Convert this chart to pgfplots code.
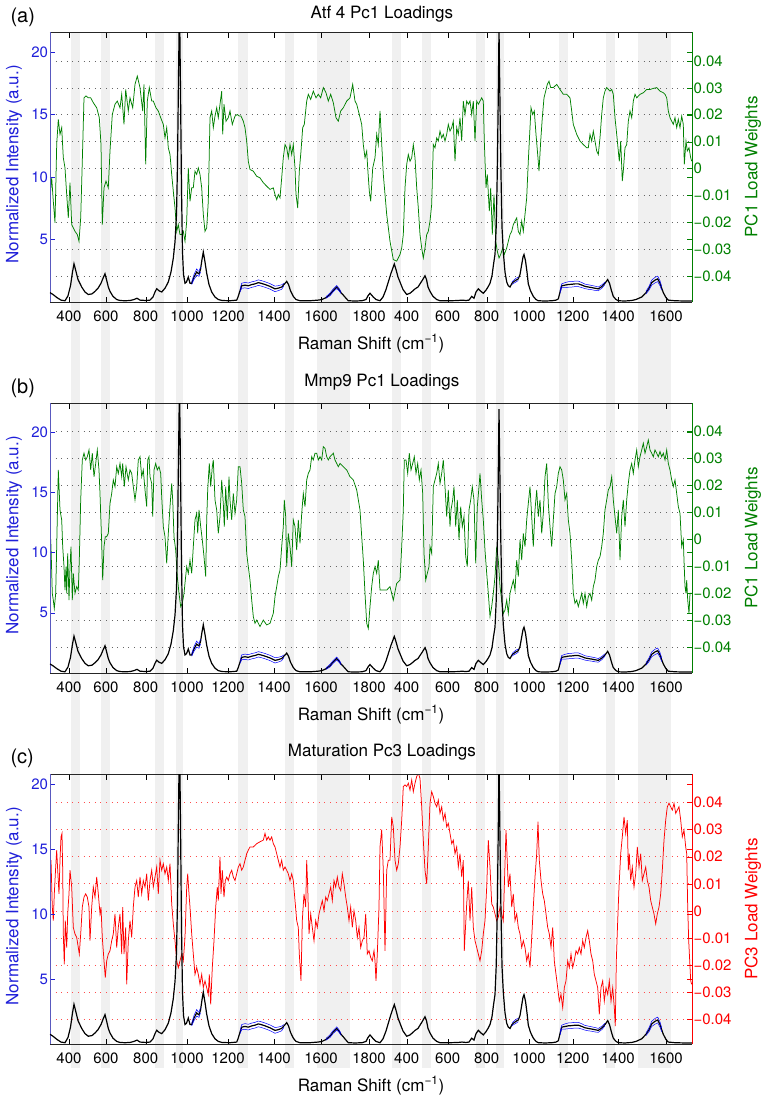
\documentclass[border=0pt]{standalone}
\usepackage{fontspec}
\setmainfont{TeX Gyre Heros}
\usepackage{pgfplots}
\usepackage{pgfplotstable}
\pgfplotsset{compat=1.18}

\definecolor{lblue}{rgb}{0.12,0.12,0.85}
\definecolor{spineblue}{rgb}{0.35,0.35,0.75}
\definecolor{mgreen}{rgb}{0,0.5,0}
\definecolor{mred}{rgb}{1,0,0}
\definecolor{bandgray}{gray}{0.94}
\definecolor{gridgray}{gray}{0.4}

\pgfplotstableread{
x y
50 0.75
53 0.6
57 0.35
61 0.15
65 0.1
68 0.5
70.5 1.3
72.5 2.4
74 3.06
75.5 2.6
78 1.8
81.7 1.2
85 0.8
88.3 0.6
92 0.65
95 0.85
98 1.1
101 1.5
103 1.9
105 2.26
106.5 1.8
108.3 1.2
110 0.85
113 0.45
116.7 0.2
120 0.12
125 0.1
130 0.12
134 0.2
137 0.3
140 0.15
146 0.12
150 0.15
153 0.4
155 0.8
156.7 1.06
159 0.9
161.7 0.8
165 1.1
168.3 1.6
171 2.4
173.3 3.5
175 4.8
176.5 7
177.5 11
178.5 18
179.5 24
180.5 17
181.5 9
182.5 4
183.5 2.2
185 1.5
186.5 1.6
188.3 2.0
190 1.5
191.7 1.5
194 2.0
196.7 2.4
198 2.3
199 2.25
200.5 2.6
202 3.4
203.3 4.0
205 3.2
206.7 2.3
209 1.4
211.7 0.8
215 0.4
218.3 0.2
222 0.12
230 0.1
236.7 0.15
238 0.4
240 0.9
241.7 1.3
245 1.35
248.3 1.3
252 1.4
255 1.45
258.3 1.55
261 1.5
265 1.4
270 1.25
275 1.05
278 1.1
281.7 1.2
284 1.4
286.7 1.65
288.5 1.4
290.5 0.9
293.3 0.45
296 0.2
300 0.1
310 0.1
318 0.15
322 0.2
326 0.35
330 0.6
333 0.9
336.7 1.2
339 1.0
341 0.75
343.3 0.55
346 0.3
348.3 0.1
355 0.08
362 0.1
366 0.2
368 0.5
370 0.7
373.3 0.4
376 0.2
380 0.1
383 0.4
386 1.0
388.3 1.6
391 2.3
394.3 3.04
396 2.6
398 2.0
400 1.6
403 1.0
406.7 0.6
410 0.7
413 0.9
415 1.05
418 1.2
420 1.45
422 1.7
425 2.1
426.5 1.8
428 1.2
430 0.85
433 0.45
436.7 0.2
440 0.1
450 0.1
458 0.12
462 0.15
466 0.12
469 0.15
471.7 0.45
474 0.3
476 0.8
478.3 1.05
481 0.85
483.3 0.7
486 0.95
488 1.2
490 1.5
492 2.1
493.5 3.0
495 3.8
496.2 6
497.2 10
498.2 16
499 21.9
499.8 17
500.8 11
502 6
503.3 4
505 2.4
506.7 1.6
508.3 1.3
510 1.2
512 1.5
513.3 1.6
516 1.75
518.3 1.85
520 2.2
521.5 2.9
523 3.6
524 3.8
525.5 3.3
527 2.4
528.3 1.45
530.5 0.9
533.3 0.45
536 0.2
538.3 0.1
545 0.08
552 0.1
556 0.15
558.3 0.25
560 0.8
561.7 1.3
565 1.35
568.3 1.4
572 1.42
575 1.45
578.3 1.45
582 1.35
585 1.25
588.3 1.2
592 1.15
595 1.1
598.3 1.05
602 1.25
605 1.5
607.7 1.8
609.5 1.5
611.5 0.9
613.3 0.45
616 0.2
618.3 0.1
625 0.08
631.7 0.12
636 0.2
641.7 0.4
646 0.75
649 1.1
651.7 1.55
655 1.75
657.7 1.85
660 1.5
661.7 1.1
663.3 0.75
666 0.35
668.3 0.15
675 0.1
685 0.08
692 0.08
}\spec

\pgfplotstableread{
x y
50.0 -0.0109
51.7 -0.0035
53.3 -0.0122
55.0 -0.0202
56.7 0.0089
58.3 0.0183
60.0 0.0127
61.7 0.0152
63.3 0.0040
65.0 0.0002
66.7 -0.0097
68.3 -0.0184
70.0 -0.0053
71.7 -0.0209
73.3 -0.0221
75.0 -0.0234
77.3 -0.0246
79.0 -0.0271
80.7 -0.0184
82.3 0.0027
84.0 0.0263
86.0 0.0270
88.3 0.0263
90.7 0.0263
93.3 0.0245
96.7 0.0226
99.3 0.0189
101.0 0.0089
102.3 -0.0209
104.0 -0.0072
106.0 -0.0047
108.3 -0.0072
110.0 0.0065
112.3 0.0201
115.0 0.0239
117.3 0.0251
120.0 0.0226
121.7 0.0276
124.0 0.0164
125.7 0.0294
128.3 0.0214
130.0 0.0263
132.7 0.0226
135.0 0.0313
137.3 0.0344
140.0 0.0301
142.7 0.0214
144.0 0.0313
145.7 0.0015
147.3 0.0251
149.3 0.0301
151.7 0.0251
153.3 0.0251
156.0 0.0226
158.3 0.0214
160.7 0.0189
163.3 0.0164
165.0 0.0114
166.7 0.0152
168.3 0.0077
170.0 0.0052
171.7 -0.0022
173.3 -0.0084
175.0 -0.0147
176.7 -0.0234
178.3 -0.0209
180.0 -0.0246
181.7 -0.0246
183.3 -0.0234
185.0 -0.0271
186.7 -0.0196
188.3 0.0002
190.0 -0.0122
191.7 -0.0072
193.3 -0.0072
195.0 -0.0010
196.7 -0.0022
198.3 0.0002
200.0 -0.0022
201.7 -0.0072
203.3 -0.0171
205.0 -0.0234
206.7 -0.0221
208.3 -0.0122
210.0 0.0189
211.7 0.0214
213.3 0.0152
215.0 0.0195
216.7 0.0226
218.3 0.0189
220.0 0.0239
221.7 0.0288
222.7 0.0127
224.0 0.0239
226.0 0.0176
228.3 0.0189
230.0 0.0214
232.3 0.0164
235.0 0.0195
237.3 0.0201
239.3 0.0195
241.0 0.0195
243.3 0.0176
245.0 0.0152
246.7 0.0102
248.3 0.0027
250.0 -0.0004
253.3 -0.0010
256.7 -0.0029
260.0 -0.0035
263.3 -0.0053
266.7 -0.0066
270.0 -0.0078
273.3 -0.0072
275.0 -0.0097
276.7 -0.0116
278.3 -0.0097
280.0 -0.0109
281.7 -0.0035
283.3 0.0040
285.0 0.0089
286.7 0.0077
288.3 0.0040
290.0 0.0089
291.7 0.0052
293.3 0.0089
295.0 0.0002
296.0 -0.0097
297.7 -0.0147
299.3 -0.0010
301.0 0.0065
302.7 0.0152
304.3 0.0164
306.7 0.0251
308.3 0.0276
310.7 0.0257
313.3 0.0288
316.0 0.0263
318.3 0.0276
320.7 0.0263
323.3 0.0301
326.0 0.0282
328.3 0.0251
330.7 0.0276
333.3 0.0245
336.0 0.0189
338.3 0.0176
340.7 0.0214
343.3 0.0226
346.7 0.0251
350.0 0.0263
352.7 0.0313
355.0 0.0251
356.7 0.0239
359.3 0.0201
361.7 0.0164
363.3 0.0089
365.0 0.0040
366.7 0.0065
367.7 0.0002
369.3 -0.0084
370.7 -0.0122
372.7 0.0002
375.0 0.0040
376.7 0.0127
378.3 0.0089
380.0 0.0214
383.3 -0.0022
386.7 -0.0171
390.0 -0.0271
393.3 -0.0339
396.7 -0.0345
400.0 -0.0320
401.7 -0.0296
403.3 -0.0246
405.0 -0.0072
406.7 0.0015
408.3 0.0052
410.0 0.0027
411.7 0.0040
413.3 0.0089
415.0 0.0040
416.7 -0.0072
418.3 -0.0147
420.0 -0.0246
421.7 -0.0296
423.3 -0.0333
425.0 -0.0296
426.7 -0.0246
428.3 -0.0234
430.0 -0.0196
431.7 -0.0134
433.3 0.0089
435.0 0.0077
436.7 0.0114
438.3 0.0102
440.0 0.0139
441.7 0.0114
443.3 0.0127
445.0 0.0102
446.7 0.0127
448.3 0.0164
450.0 0.0139
451.7 0.0152
453.3 0.0176
455.0 0.0027
456.7 0.0152
458.3 0.0127
460.0 0.0189
461.7 0.0102
463.3 0.0251
465.0 0.0201
466.7 0.0251
468.3 0.0239
470.0 0.0251
471.7 0.0201
473.3 0.0251
475.0 0.0102
476.7 0.0251
478.3 0.0239
480.0 0.0251
481.7 0.0263
483.3 0.0251
484.3 0.0102
486.0 -0.0072
487.3 -0.0022
489.3 -0.0159
490.7 -0.0072
492.3 -0.0246
494.0 -0.0097
495.7 -0.0271
497.3 -0.0308
499.0 -0.0333
500.7 -0.0320
502.7 -0.0296
504.3 -0.0320
506.7 -0.0296
508.3 -0.0271
510.0 -0.0246
511.7 -0.0234
513.3 -0.0209
515.0 -0.0196
516.7 -0.0184
518.3 -0.0234
520.0 -0.0246
521.7 -0.0196
523.3 -0.0234
525.0 -0.0171
526.7 -0.0109
528.3 0.0027
530.0 0.0152
531.0 0.0226
532.7 0.0201
534.3 0.0214
536.0 0.0127
537.7 0.0052
539.0 -0.0010
540.7 0.0102
542.3 0.0189
544.0 0.0263
545.7 0.0288
547.3 0.0313
549.0 0.0325
550.7 0.0301
553.3 0.0301
556.7 0.0313
560.0 0.0294
563.3 0.0276
566.7 0.0276
570.0 0.0263
571.7 0.0214
573.3 0.0164
576.7 0.0127
580.0 0.0102
583.3 0.0089
586.7 0.0077
588.3 0.0077
590.0 0.0127
591.7 0.0102
593.3 0.0139
595.0 0.0102
596.7 0.0065
598.3 0.0052
600.0 0.0114
601.7 0.0201
603.3 0.0263
605.0 0.0288
606.7 0.0301
610.0 0.0288
611.7 0.0294
613.3 0.0276
615.0 0.0189
616.7 0.0127
618.3 0.0065
619.3 0.0027
620.7 0.0102
622.3 -0.0047
623.3 -0.0010
625.0 0.0077
626.7 0.0089
628.3 0.0176
630.0 0.0214
631.7 0.0189
633.3 0.0251
635.0 0.0276
636.7 0.0263
640.0 0.0276
643.3 0.0282
646.7 0.0294
650.0 0.0294
653.3 0.0298
656.7 0.0301
660.0 0.0288
663.3 0.0282
665.0 0.0276
666.7 0.0263
668.3 0.0214
670.0 0.0189
671.7 0.0176
673.3 0.0164
675.0 0.0189
676.7 0.0152
678.3 0.0183
680.0 0.0152
681.7 0.0195
683.3 0.0164
684.3 0.0015
686.0 0.0102
687.3 0.0065
689.0 0.0077
690.7 0.0040
691.7 0.0027
}\loadA

\pgfplotstableread{
x y
50.0 0.0047
51.0 -0.0027
52.3 -0.0200
53.3 -0.0225
54.3 -0.0256
55.7 -0.0200
56.7 -0.0027
58.3 0.0257
60.0 0.0109
61.7 0.0072
62.7 -0.0027
64.0 -0.0101
65.0 -0.0188
66.0 -0.0101
66.7 -0.0200
67.7 -0.0052
69.0 -0.0225
70.0 -0.0101
71.0 -0.0027
72.3 -0.0225
73.3 -0.0126
75.0 -0.0200
76.7 -0.0175
78.3 -0.0188
79.3 -0.0077
80.7 0.0146
82.3 0.0294
84.0 0.0319
85.7 0.0294
87.3 0.0306
89.0 0.0331
90.7 0.0257
92.3 0.0319
94.0 0.0232
95.7 0.0281
97.3 0.0331
99.0 0.0257
100.0 0.0170
101.7 -0.0015
102.7 -0.0151
104.0 -0.0027
105.3 0.0010
106.7 0.0010
108.3 0.0022
110.0 0.0133
111.7 0.0170
113.3 0.0220
115.0 0.0195
116.7 0.0269
118.3 0.0244
120.0 0.0281
121.7 0.0232
122.7 0.0281
124.3 0.0195
126.0 0.0269
128.3 0.0220
130.0 0.0257
131.7 0.0244
133.3 0.0195
135.0 0.0146
136.7 0.0195
138.3 0.0294
140.0 0.0306
141.7 0.0232
143.3 0.0257
145.0 0.0183
146.7 0.0121
147.7 0.0294
149.0 0.0306
150.0 0.0232
151.7 0.0207
152.7 0.0084
154.0 0.0257
155.7 0.0281
157.3 0.0257
159.0 0.0269
160.7 0.0244
161.7 0.0158
163.3 0.0047
165.0 0.0010
166.7 -0.0089
168.3 0.0022
170.0 0.0121
171.7 0.0207
172.7 0.0146
174.0 0.0010
175.7 -0.0040
177.3 -0.0138
179.0 -0.0200
180.7 -0.0249
182.3 -0.0237
184.0 -0.0200
185.3 -0.0151
186.7 -0.0101
188.3 -0.0126
190.0 -0.0077
191.7 -0.0126
193.3 -0.0027
195.0 0.0072
196.7 0.0096
197.7 0.0022
199.0 0.0109
200.7 0.0047
202.3 -0.0002
204.0 -0.0064
205.7 -0.0138
206.7 0.0072
207.7 0.0183
209.3 0.0281
210.7 0.0195
212.3 0.0269
213.3 0.0294
215.0 0.0146
216.7 0.0109
218.3 0.0022
220.0 0.0084
221.7 0.0220
223.3 0.0133
224.3 0.0047
225.7 0.0195
227.3 0.0072
229.0 0.0232
230.0 0.0146
231.7 0.0072
233.3 0.0170
235.0 0.0096
236.7 0.0146
238.3 0.0269
240.0 0.0269
241.7 0.0207
243.3 0.0109
245.0 0.0084
246.7 -0.0052
248.3 -0.0101
250.0 -0.0151
251.7 -0.0225
253.3 -0.0286
255.0 -0.0311
256.7 -0.0299
260.0 -0.0323
263.3 -0.0299
266.7 -0.0317
270.0 -0.0311
273.3 -0.0274
275.0 -0.0212
276.7 -0.0175
278.3 -0.0138
280.0 -0.0114
281.7 -0.0027
283.3 0.0047
284.3 0.0146
285.7 0.0084
286.7 -0.0101
288.3 0.0022
290.0 -0.0027
291.7 -0.0101
293.3 0.0072
295.0 0.0047
296.7 -0.0040
298.3 0.0072
300.0 -0.0015
301.7 0.0096
303.3 0.0170
305.0 0.0121
306.7 0.0220
308.3 0.0244
310.0 0.0257
311.7 0.0306
313.3 0.0294
315.0 0.0319
316.7 0.0319
318.3 0.0294
320.0 0.0306
321.7 0.0294
323.3 0.0343
325.0 0.0337
326.7 0.0306
328.3 0.0294
330.0 0.0306
333.3 0.0319
335.0 0.0294
336.7 0.0281
338.3 0.0269
340.0 0.0281
343.3 0.0269
346.7 0.0257
350.0 0.0232
353.3 0.0220
356.7 0.0183
360.0 0.0109
361.7 0.0010
363.3 -0.0077
365.0 -0.0200
366.7 -0.0311
368.3 -0.0330
370.0 -0.0249
371.7 -0.0175
373.3 -0.0126
375.0 -0.0101
376.7 -0.0126
378.3 -0.0077
380.0 -0.0188
386.7 -0.0188
390.0 -0.0175
393.3 -0.0225
396.7 -0.0163
400.0 -0.0151
401.7 -0.0027
403.3 0.0109
404.3 0.0294
406.0 0.0294
407.7 0.0244
409.3 0.0319
411.0 0.0257
412.7 0.0281
414.3 0.0306
416.0 0.0244
417.7 0.0281
419.3 0.0220
421.0 0.0257
422.7 0.0170
424.0 -0.0052
425.7 -0.0151
427.3 -0.0126
429.0 -0.0101
430.0 -0.0027
431.7 -0.0052
433.3 0.0195
435.0 0.0220
436.7 0.0244
438.3 0.0281
440.0 0.0207
441.7 0.0244
443.3 0.0294
445.0 0.0195
446.7 0.0084
448.3 0.0183
450.0 0.0047
451.0 0.0109
452.7 0.0146
454.0 0.0195
455.7 0.0047
457.3 0.0146
459.0 -0.0002
460.7 0.0121
462.3 0.0047
464.0 0.0084
465.7 -0.0064
467.3 -0.0101
469.0 0.0109
470.7 0.0146
472.3 0.0195
474.0 0.0146
475.7 -0.0089
477.3 0.0121
479.0 0.0195
480.0 0.0244
481.7 0.0146
483.3 0.0072
485.0 -0.0040
486.7 -0.0126
488.3 -0.0200
490.0 -0.0286
491.7 -0.0249
493.3 -0.0200
495.0 -0.0138
496.7 -0.0027
498.3 -0.0077
500.0 -0.0175
501.7 -0.0225
503.3 -0.0274
505.0 -0.0262
506.7 -0.0225
508.3 -0.0274
510.0 -0.0200
511.7 -0.0175
513.3 -0.0151
515.0 -0.0188
516.7 -0.0077
518.3 -0.0138
520.0 -0.0002
521.7 -0.0077
523.3 0.0022
525.0 -0.0027
526.7 0.0072
528.3 0.0133
530.0 0.0195
531.7 0.0084
533.3 -0.0027
535.0 0.0109
536.7 0.0183
538.3 0.0084
540.0 0.0146
541.7 0.0022
543.3 0.0096
545.0 0.0232
546.7 0.0281
548.3 0.0133
550.0 0.0047
551.7 -0.0027
553.3 0.0072
555.0 0.0170
556.7 0.0195
558.3 0.0244
560.0 0.0269
561.7 0.0257
563.3 0.0220
565.0 0.0146
566.7 0.0170
568.3 0.0072
570.0 0.0022
571.7 -0.0077
573.3 -0.0200
575.0 -0.0237
576.7 -0.0225
578.3 -0.0249
580.0 -0.0225
581.7 -0.0200
583.3 -0.0237
585.0 -0.0200
586.7 -0.0249
588.3 -0.0212
590.0 -0.0200
591.7 -0.0225
593.3 -0.0175
595.0 -0.0151
596.7 -0.0101
598.3 -0.0077
600.0 -0.0064
601.7 -0.0027
603.3 0.0022
605.0 0.0109
606.7 0.0146
608.3 0.0183
610.0 0.0195
611.7 0.0232
613.3 0.0146
615.0 0.0084
616.7 0.0022
618.3 0.0109
620.0 -0.0077
621.7 0.0084
623.3 0.0146
625.0 0.0047
626.7 0.0146
628.3 0.0207
630.0 0.0257
631.7 0.0281
633.3 0.0244
635.0 0.0294
636.7 0.0331
638.3 0.0269
640.0 0.0306
641.7 0.0331
643.3 0.0356
645.0 0.0319
646.7 0.0343
648.3 0.0368
650.0 0.0331
651.7 0.0319
653.3 0.0306
655.0 0.0331
656.7 0.0319
658.3 0.0306
660.0 0.0325
661.7 0.0306
663.3 0.0319
665.0 0.0294
666.7 0.0331
668.3 0.0281
670.0 0.0257
671.7 0.0220
673.3 0.0195
675.0 0.0220
676.7 0.0170
678.3 0.0121
680.0 0.0096
681.7 -0.0027
683.3 -0.0002
684.0 -0.0077
685.0 -0.0175
686.0 -0.0200
686.7 -0.0151
687.7 -0.0225
689.0 -0.0274
690.0 -0.0200
691.7 -0.0200
}\loadB

\pgfplotstableread{
x y
50.0 0.0125
51.0 0.0187
52.3 0.0014
53.3 -0.0036
54.3 0.0063
55.7 0.0162
56.7 0.0224
57.7 0.0150
59.0 0.0063
60.0 0.0187
61.0 0.0273
62.0 0.0286
62.7 0.0150
63.3 -0.0085
64.3 -0.0197
65.3 -0.0036
66.7 -0.0135
67.7 -0.0011
69.0 0.0063
70.0 0.0150
71.7 0.0088
73.3 -0.0061
75.0 -0.0085
76.7 -0.0098
78.3 -0.0135
79.3 -0.0159
80.7 -0.0085
82.3 0.0014
84.0 0.0051
85.7 0.0063
87.3 0.0051
89.0 0.0014
90.0 -0.0110
91.7 0.0014
93.3 0.0088
95.0 0.0051
96.7 0.0125
98.3 0.0063
100.0 -0.0011
101.0 0.0014
102.3 -0.0098
104.0 -0.0184
105.3 -0.0246
106.7 -0.0184
108.3 -0.0159
110.0 -0.0147
111.7 -0.0110
113.3 -0.0085
115.0 -0.0011
116.7 -0.0135
118.3 -0.0061
120.0 -0.0011
121.7 -0.0159
122.7 0.0014
124.0 -0.0159
125.7 -0.0061
126.7 -0.0271
128.3 -0.0110
130.0 -0.0036
131.7 -0.0098
133.3 0.0014
135.0 0.0088
136.7 0.0112
138.3 0.0051
140.0 0.0125
141.7 0.0063
143.3 0.0112
145.0 0.0088
146.7 0.0137
148.3 0.0038
150.0 0.0112
151.7 0.0150
153.3 0.0088
155.0 0.0125
156.7 0.0162
158.3 0.0063
160.0 0.0187
161.7 0.0150
163.3 0.0174
165.0 0.0137
166.7 0.0162
168.3 0.0112
170.0 0.0174
171.7 0.0026
173.3 -0.0048
175.0 -0.0110
176.7 -0.0184
178.3 -0.0209
180.0 -0.0184
181.7 -0.0159
183.3 -0.0184
185.0 -0.0098
186.7 0.0088
187.7 0.0137
189.0 0.0063
190.0 0.0014
191.7 -0.0085
193.3 -0.0159
195.0 -0.0234
196.7 -0.0209
198.3 -0.0234
200.0 -0.0271
201.7 -0.0234
203.3 -0.0283
205.0 -0.0258
206.7 -0.0283
208.3 -0.0308
209.3 -0.0234
210.7 -0.0345
212.3 -0.0209
214.0 -0.0110
215.7 0.0014
217.3 0.0088
218.3 0.0038
220.0 0.0199
221.0 0.0063
222.3 0.0150
224.0 0.0051
225.3 0.0112
226.7 0.0125
228.3 0.0112
230.0 0.0137
231.7 0.0150
233.3 0.0125
235.0 0.0112
236.7 0.0137
238.3 0.0162
240.0 0.0174
241.7 0.0150
243.3 0.0162
245.0 0.0187
246.7 0.0211
248.3 0.0224
250.0 0.0236
253.3 0.0236
256.7 0.0248
260.0 0.0255
263.3 0.0261
265.0 0.0286
266.7 0.0261
268.3 0.0273
270.0 0.0261
271.7 0.0273
273.3 0.0248
275.0 0.0236
276.7 0.0211
278.3 0.0187
280.0 0.0162
281.7 0.0187
283.3 0.0150
285.0 0.0162
286.7 0.0150
288.3 0.0137
290.0 0.0112
291.7 0.0137
293.3 0.0112
295.0 0.0038
296.7 -0.0036
298.3 -0.0061
299.3 -0.0159
301.0 -0.0258
302.3 -0.0036
304.0 0.0063
305.7 0.0014
306.7 0.0187
307.7 0.0088
309.0 -0.0085
310.7 -0.0011
312.3 -0.0061
314.0 -0.0110
315.7 -0.0036
317.3 -0.0061
319.0 -0.0011
320.7 0.0014
322.3 0.0038
324.0 0.0001
325.7 0.0051
327.3 0.0038
329.0 0.0063
330.7 0.0088
332.3 0.0038
334.0 0.0112
335.7 0.0088
337.3 0.0125
339.0 0.0088
340.7 0.0075
342.3 0.0137
344.0 0.0100
345.7 0.0051
347.3 0.0014
349.0 -0.0036
350.7 0.0014
352.3 -0.0061
354.0 0.0001
355.7 -0.0036
357.3 -0.0098
359.0 -0.0061
360.7 -0.0135
362.3 -0.0110
364.0 -0.0098
365.7 -0.0011
367.3 -0.0159
369.0 -0.0147
370.7 -0.0172
372.3 -0.0184
374.0 -0.0147
375.0 -0.0184
376.0 -0.0258
377.3 -0.0159
379.0 0.0014
380.0 0.0236
381.7 0.0300
383.3 0.0150
385.0 -0.0147
386.7 0.0150
388.3 0.0187
390.0 0.0187
391.7 0.0347
393.3 0.0310
395.0 0.0187
396.7 0.0150
398.3 0.0174
400.0 0.0236
401.7 0.0335
403.3 0.0459
405.0 0.0465
406.7 0.0459
408.3 0.0471
410.0 0.0446
411.7 0.0483
413.3 0.0440
415.0 0.0471
416.7 0.0496
418.3 0.0508
420.0 0.0489
421.7 0.0384
423.3 0.0261
425.0 0.0150
426.7 0.0100
428.3 0.0236
430.0 0.0397
431.7 0.0440
433.3 0.0422
435.0 0.0397
436.7 0.0384
438.3 0.0409
440.0 0.0360
441.7 0.0384
443.3 0.0335
445.0 0.0360
446.7 0.0310
448.3 0.0323
450.0 0.0286
451.7 0.0248
453.3 0.0261
455.0 0.0211
456.7 0.0236
458.3 0.0162
460.0 0.0211
461.7 0.0125
463.3 0.0187
464.3 -0.0147
466.7 0.0026
468.3 0.0112
470.0 -0.0036
471.7 0.0088
473.3 -0.0061
475.0 -0.0110
476.7 -0.0135
478.3 -0.0159
480.0 -0.0184
481.7 -0.0147
483.3 -0.0085
485.0 -0.0036
486.7 0.0088
488.3 0.0261
490.0 0.0162
491.7 0.0026
493.3 0.0014
495.0 -0.0011
496.7 -0.0036
498.3 -0.0023
500.0 0.0014
501.7 -0.0011
503.3 -0.0036
506.0 0.0298
508.3 0.0088
510.0 0.0137
511.7 0.0014
513.3 0.0063
515.0 -0.0036
516.7 -0.0011
518.3 -0.0061
520.0 -0.0085
521.7 -0.0135
523.3 -0.0110
525.0 -0.0135
526.7 -0.0184
528.3 -0.0159
530.0 -0.0209
531.7 -0.0098
533.3 0.0014
535.0 0.0125
536.7 0.0211
538.0 0.0329
539.3 0.0187
541.0 0.0112
542.7 0.0063
544.3 0.0038
546.0 -0.0011
547.7 -0.0061
549.3 -0.0085
551.0 -0.0135
552.7 -0.0061
554.3 -0.0184
556.0 -0.0234
557.7 -0.0283
559.3 -0.0333
561.0 -0.0308
562.7 -0.0357
564.3 -0.0283
566.0 -0.0258
567.7 -0.0184
569.3 -0.0209
571.0 -0.0159
572.7 -0.0209
574.3 -0.0184
576.0 -0.0147
577.7 -0.0159
579.3 -0.0135
581.0 -0.0159
582.7 -0.0110
584.3 -0.0135
586.0 -0.0098
587.7 -0.0073
589.3 -0.0110
591.0 -0.0159
592.7 -0.0184
594.3 -0.0234
596.0 -0.0258
597.7 -0.0283
599.3 -0.0382
601.0 -0.0283
602.7 -0.0258
604.3 -0.0333
606.0 -0.0283
607.7 -0.0308
609.3 -0.0258
611.0 -0.0333
612.7 -0.0283
614.3 -0.0357
615.3 -0.0425
616.3 -0.0184
617.7 -0.0036
619.0 0.0088
620.7 0.0211
622.3 0.0273
624.0 0.0347
625.7 0.0286
627.3 0.0335
628.3 0.0150
629.3 0.0211
630.7 0.0112
632.3 0.0162
634.0 0.0088
635.7 0.0137
637.3 0.0236
639.0 0.0162
640.7 0.0211
642.3 0.0112
644.0 0.0137
645.7 0.0162
647.3 0.0112
649.0 0.0088
650.7 0.0038
652.3 0.0014
654.0 -0.0011
655.7 -0.0048
657.3 -0.0011
659.0 0.0014
660.7 0.0063
662.3 0.0150
664.0 0.0261
665.7 0.0335
667.3 0.0384
669.0 0.0397
670.7 0.0384
672.3 0.0372
674.0 0.0397
675.7 0.0360
677.3 0.0372
679.0 0.0384
680.7 0.0335
682.3 0.0273
684.0 0.0298
685.7 0.0236
686.7 0.0211
687.7 0.0014
688.7 -0.0110
689.7 -0.0184
690.7 -0.0258
691.7 -0.0271
}\loadC

\pgfplotsset{
  panel/.style={
    scale only axis, width=642pt, height=270pt, anchor=south west,
    xmin=50, xmax=692,
    /pgf/number format/assume math mode=true,
    tick align=inside, major tick length=5.5pt,
    ticklabel style={font=\fontsize{15}{15}\selectfont},
    label style={font=\fontsize{17}{17}\selectfont},
  },
  leftpanel/.style={
    panel, clip mode=individual,
    axis x line*=box, axis y line*=left,
    x axis line style={black!85, -},
    y axis line style={spineblue, -},
    xtick={69,106,145.7,187,228,274,321,369,406.7,447.7,486.7,529,572.7,618,666},
    xticklabels={400,600,800,1000,1200,1400,1600,1800,400,600,800,1000,1200,1400,1600},
    xtick style={black},
    ytick={5,10,15,20}, ytick style={lblue},
    yticklabel style={lblue, xshift=1.5pt},
    xticklabel style={anchor=base, yshift=-19.5pt},
    xlabel={Raman Shift (cm\textsuperscript{−1})},
    xlabel style={at={(axis description cs:0.5,0)}, anchor=base, yshift=-47pt},
    ylabel={Normalized Intensity (a.u.)},
    ylabel style={lblue, at={(axis description cs:-0.056,0.51)}, anchor=center, rotate=0},
    title style={font=\fontsize{17}{17}\selectfont, at={(0.517,1)}, anchor=base},
  },
  rightpanel/.style={
    panel, axis x line=none, axis y line*=right,
    y axis line style={-},
    scaled y ticks=false,
    ytick={-0.04,-0.03,-0.02,-0.01,0,0.01,0.02,0.03,0.04},
    yticklabels={−0.04,−0.03,−0.02,−0.01,0,0.01,0.02,0.03,0.04},
    ymajorgrids,
    yticklabel style={xshift=-2pt},
    extra y tick labels={},
    extra y tick style={grid=none, tick style={lblue}},
    ylabel style={at={(axis description cs:1.095,0.5)}, anchor=center},
  },
  specline/.style={black, line width=1.2pt},
  bandline/.style={blue, line width=0.5pt},
}

\newcommand{\bandlines}{%
  \addplot[bandline] coordinates {(191.7,1.6)(194,2.2)(196.7,2.65)(198,2.5)(199,2.45)(200.5,2.8)};
  \addplot[bandline] coordinates {(191.7,1.4)(194,1.8)(196.7,2.15)(198,2.1)(199,2.05)(200.5,2.4)};
  \addplot[bandline] coordinates {(240,1.0)(241.7,1.5)(245,1.57)(248.3,1.52)(252,1.62)(255,1.67)(258.3,1.77)(261,1.72)(265,1.62)(270,1.47)(275,1.27)(278,1.3)(281.7,1.38)(284,1.5)};
  \addplot[bandline] coordinates {(240,0.8)(241.7,1.1)(245,1.13)(248.3,1.08)(252,1.18)(255,1.23)(258.3,1.33)(261,1.28)(265,1.18)(270,1.03)(275,0.83)(278,0.9)(281.7,1.02)(284,1.3)};
  \addplot[bandline] coordinates {(326,0.42)(330,0.72)(333,1.02)(336.7,1.32)(339,1.1)(341,0.82)};
  \addplot[bandline] coordinates {(326,0.3)(330,0.5)(333,0.8)(336.7,1.08)(339,0.9)(341,0.68)};
  \addplot[bandline] coordinates {(512,1.6)(513.3,1.72)(516,1.9)(518.3,1.98)};
  \addplot[bandline] coordinates {(512,1.4)(513.3,1.48)(516,1.6)(518.3,1.72)};
  \addplot[bandline] coordinates {(560,0.9)(561.7,1.45)(565,1.55)(568.3,1.62)(572,1.64)(575,1.67)(578.3,1.67)(582,1.55)(585,1.43)(588.3,1.38)(592,1.32)(595,1.27)(598.3,1.2)(602,1.38)(605,1.6)};
  \addplot[bandline] coordinates {(560,0.7)(561.7,1.15)(565,1.15)(568.3,1.18)(572,1.2)(575,1.23)(578.3,1.23)(582,1.15)(585,1.07)(588.3,1.02)(592,0.98)(595,0.93)(598.3,0.9)(602,1.12)(605,1.4)};
  \addplot[bandline] coordinates {(646,0.85)(649,1.25)(651.7,1.75)(655,1.97)(657.7,2.07)(660,1.7)(661.7,1.25)};
  \addplot[bandline] coordinates {(646,0.65)(649,0.95)(651.7,1.35)(655,1.53)(657.7,1.63)(660,1.3)(661.7,0.95)};
}

\begin{document}
\begin{tikzpicture}
\path[use as bounding box] (0pt,0pt) rectangle (765pt,-1098pt);

% shaded bands spanning the whole figure
\begin{axis}[scale only axis, width=642pt, height=1036pt, at={(50pt,-1068pt)}, anchor=south west,
  xmin=50, xmax=692, ymin=0, ymax=1, axis lines=none, ticks=none]
\addplot[fill=bandgray, draw=none] coordinates {(71,1) (80,1)} \closedcycle;
\addplot[fill=bandgray, draw=none] coordinates {(101,1) (110,1)} \closedcycle;
\addplot[fill=bandgray, draw=none] coordinates {(155,1) (164,1)} \closedcycle;
\addplot[fill=bandgray, draw=none] coordinates {(175.5,1) (182.5,1)} \closedcycle;
\addplot[fill=bandgray, draw=none] coordinates {(238,1) (247.5,1)} \closedcycle;
\addplot[fill=bandgray, draw=none] coordinates {(285,1) (294,1)} \closedcycle;
\addplot[fill=bandgray, draw=none] coordinates {(316.5,1) (349.5,1)} \closedcycle;
\addplot[fill=bandgray, draw=none] coordinates {(391.7,1) (400.7,1)} \closedcycle;
\addplot[fill=bandgray, draw=none] coordinates {(422.2,1) (431,1)} \closedcycle;
\addplot[fill=bandgray, draw=none] coordinates {(476,1) (485,1)} \closedcycle;
\addplot[fill=bandgray, draw=none] coordinates {(496,1) (503.5,1)} \closedcycle;
\addplot[fill=bandgray, draw=none] coordinates {(559.3,1) (568.3,1)} \closedcycle;
\addplot[fill=bandgray, draw=none] coordinates {(605.8,1) (615,1)} \closedcycle;
\addplot[fill=bandgray, draw=none] coordinates {(637.5,1) (670.5,1)} \closedcycle;
\end{axis}

% ---------------- panel (a) ----------------
\begin{axis}[rightpanel, at={(50pt,-302pt)}, ymin=-0.0497, ymax=0.0508,
  extra y ticks={-0.0264,-0.0032,0.0201,0.0434},
  ylabel={PC1 Load Weights}, ylabel style={mgreen}, y axis line style={mgreen},
  ytick style={mgreen}, yticklabel style={mgreen},
  grid style={gridgray, line width=0.6pt, dash pattern=on 0.6pt off 5pt}]
\addplot[mgreen, line width=0.75pt] table[x=x,y=y]{\loadA};
\end{axis}
\begin{axis}[leftpanel, at={(50pt,-302pt)}, ymin=0, ymax=21.6,
  title={Atf 4 Pc1 Loadings}, title style={yshift=7.7pt}]
\addplot[specline] table[x=x,y=y]{\spec};
\bandlines
\node[anchor=base west, font=\fontsize{20}{20}\selectfont, yshift=9.5pt] at (rel axis cs:-0.067,1) {(a)};
\end{axis}

% ---------------- panel (b) ----------------
\begin{axis}[rightpanel, at={(50pt,-673pt)}, ymin=-0.0495, ymax=0.0505,
  extra y ticks={-0.0272,-0.0049,0.0175,0.0398},
  ylabel={PC1 Load Weights}, ylabel style={mgreen}, y axis line style={mgreen},
  ytick style={mgreen}, yticklabel style={mgreen},
  grid style={gridgray, line width=0.6pt, dash pattern=on 0.6pt off 5pt}]
\addplot[mgreen, line width=0.75pt] table[x=x,y=y]{\loadB};
\end{axis}
\begin{axis}[leftpanel, at={(50pt,-673pt)}, ymin=0, ymax=22.4,
  title={Mmp9 Pc1 Loadings}, title style={yshift=10.6pt}]
\addplot[specline] table[x=x,y=y]{\spec};
\bandlines
\node[anchor=base west, font=\fontsize{20}{20}\selectfont, yshift=10pt] at (rel axis cs:-0.067,1) {(b)};
\end{axis}

% ---------------- panel (c) ----------------
\begin{axis}[rightpanel, at={(50pt,-1044pt)}, ymin=-0.0491, ymax=0.0505,
  extra y ticks={-0.0252,-0.0012,0.0227,0.0467},
  ylabel={PC3 Load Weights}, ylabel style={mred}, y axis line style={mred},
  ytick style={mred}, yticklabel style={mred},
  grid style={red!70, line width=0.6pt, dash pattern=on 0.6pt off 5pt}]
\addplot[mred, line width=0.75pt] table[x=x,y=y]{\loadC};
\end{axis}
\begin{axis}[leftpanel, at={(50pt,-1044pt)}, ymin=0, ymax=20.8,
  title={Maturation Pc3 Loadings}, title style={yshift=11.7pt}]
\addplot[specline] table[x=x,y=y]{\spec};
\bandlines
\node[anchor=base west, font=\fontsize{20}{20}\selectfont, yshift=11pt] at (rel axis cs:-0.067,1) {(c)};
\end{axis}
\end{tikzpicture}
\end{document}
